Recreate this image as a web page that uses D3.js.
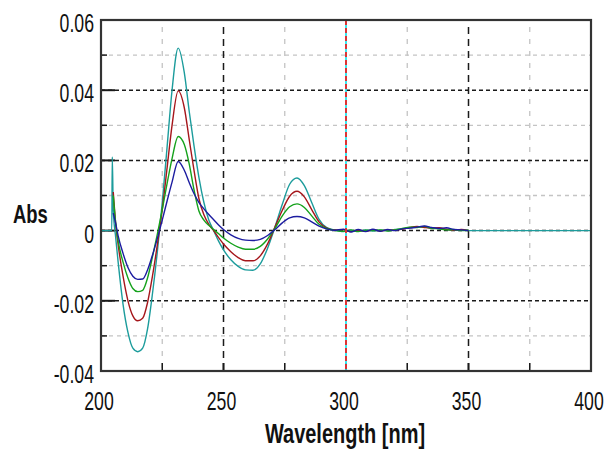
<!DOCTYPE html>
<html>
<head>
<meta charset="utf-8">
<script src="https://cdn.jsdelivr.net/npm/d3@7"></script>
<style>
  body { margin: 0; background: #fff; }
  svg { display: block; }
  .lbl { font-family: "Liberation Sans", Arial, sans-serif; fill: #111; }
</style>
</head>
<body>
<svg id="chart" width="607" height="450"></svg>
<script>
  // wavelengths shared by all four traces (nm)
  var wavelengths = [205, 206, 207, 209, 211, 213, 215, 217, 219, 221, 223, 225, 227, 229, 231.5,
    234, 236, 238, 240, 242, 244, 246, 248, 250, 253, 256, 259, 262, 265, 268, 271, 274, 277,
    280, 283, 286, 289, 292, 295,
    299, 302, 305, 308, 311, 314, 317, 320, 323, 326, 329, 332, 335, 338, 341, 344, 347, 350];

  var tealAbs = [0.006, -0.002, -0.009, -0.021, -0.029, -0.0335, -0.0345, -0.0335, -0.028, -0.018, -0.006,
    0.008, 0.024, 0.040, 0.052, 0.045, 0.034, 0.024, 0.015, 0.008, 0.003, 0.0, -0.003, -0.0055,
    -0.0083, -0.0102, -0.0112, -0.0113, -0.0095, -0.005, 0.001, 0.0075, 0.0132, 0.015, 0.0128,
    0.008, 0.0032, 0.0009, 0.0002,
    -0.0003, 0.0001, -0.0002, 0.0002, -0.0001, 0.0001, 0.0000, 0.0003, 0.0005, 0.0008, 0.0011,
    0.0010, 0.0008, 0.0006, 0.0003, 0.0001, 0.0002, 0.0000];
  var redAbs = [0.011, 0.002, -0.004, -0.013, -0.020, -0.0243, -0.0257, -0.025, -0.0205, -0.013, -0.004,
    0.006, 0.018, 0.030, 0.0398, 0.035, 0.026, 0.017, 0.009, 0.0045, 0.0018, 0.0, -0.002, -0.0038,
    -0.006, -0.0077, -0.0086, -0.0086, -0.0072, -0.0038, 0.001, 0.0058, 0.0098, 0.0112, 0.0096,
    0.006, 0.0025, 0.0008, 0.0002,
    0.0002, -0.0003, 0.0001, -0.0002, 0.0002, -0.0001, 0.0002, 0.0001, 0.0004, 0.0009, 0.0012,
    0.0009, 0.0007, 0.0008, 0.0004, 0.0001, 0.0003, 0.0000];
  var greenAbs = [0.010, 0.002, -0.003, -0.009, -0.0135, -0.0165, -0.0174, -0.0170, -0.0135, -0.0075, -0.001,
    0.006, 0.0135, 0.0205, 0.0268, 0.0245, 0.019, 0.0115, 0.0055, 0.003, 0.0015, 0.0003, -0.0009,
    -0.0021, -0.0036, -0.0047, -0.0053, -0.0053, -0.0045, -0.0024, 0.0006, 0.0042, 0.0068, 0.0076,
    0.0066, 0.0042, 0.0018, 0.0006, 0.0001,
    -0.0002, 0.0002, -0.0003, 0.0001, 0.0000, 0.0002, -0.0001, 0.0002, 0.0006, 0.0010, 0.0009,
    0.0012, 0.0006, 0.0005, 0.0002, 0.0003, 0.0000, 0.0001];
  var blueAbs = [0.005, 0.002, -0.0015, -0.0065, -0.0105, -0.013, -0.0139, -0.0138, -0.0112, -0.007, -0.0022,
    0.003, 0.0085, 0.0138, 0.0197, 0.0172, 0.0137, 0.0105, 0.0080, 0.0062, 0.0046, 0.0031, 0.0016,
    0.0003, -0.0012, -0.0022, -0.0027, -0.0028, -0.0025, -0.0014, 0.0003, 0.0022, 0.0036, 0.004,
    0.0036, 0.0025, 0.0013, 0.0005, 0.0001,
    0.0004, -0.0004, 0.0003, -0.0003, 0.0004, -0.0002, 0.0003, 0.0000, 0.0005, 0.0007, 0.0010,
    0.0013, 0.0009, 0.0006, 0.0008, 0.0003, 0.0002, 0.0000];

  // the teal trace also has a flat baseline before the lamp spike and after 350 nm
  var tealHeadW = [200, 204.4, 204.6], tealHeadA = [0, 0, 0.021];
  var tealTailW = [360, 400], tealTailA = [0, 0];

  var xTicks = [200, 250, 300, 350, 400];
  var xMinor = [225, 275, 325, 375];
  var yTicks = [-0.04, -0.02, 0, 0.02, 0.04, 0.06];
  var yMinor = [-0.03, -0.01, 0.01, 0.03, 0.05];
  var yTickLabels = ['-0.04', '-0.02', '0', '0.02', '0.04', '0.06'];
  var markerNm = 300;

  var margin = {top: 20, right: 16, bottom: 79, left: 101},
      width = 607 - margin.left - margin.right,
      height = 450 - margin.top - margin.bottom;

  var svg = d3.select('#chart');
  var g = svg.append('g').attr('transform', 'translate(' + margin.left + ',' + margin.top + ')');

  var x = d3.scaleLinear().domain([200, 400]).range([0, width]);
  var y = d3.scaleLinear().domain([-0.04, 0.06]).range([height, 0]);

  // grid, minor first
  g.selectAll('line.ygrid-minor').data(yMinor).enter().append('line')
    .attr('x1', 0).attr('x2', width)
    .attr('y1', function(d) { return y(d); }).attr('y2', function(d) { return y(d); })
    .attr('stroke', '#c4c4c4').attr('stroke-width', 1.3).attr('stroke-dasharray', '4,4');
  g.selectAll('line.xgrid-minor').data(xMinor).enter().append('line')
    .attr('y1', 7).attr('y2', height)
    .attr('x1', function(d) { return x(d); }).attr('x2', function(d) { return x(d); })
    .attr('stroke', '#c4c4c4').attr('stroke-width', 1.3).attr('stroke-dasharray', '5,7');
  g.selectAll('line.ygrid').data(yTicks.filter(function(d) { return d > -0.04 && d < 0.06; })).enter().append('line')
    .attr('x1', 0).attr('x2', width)
    .attr('y1', function(d) { return y(d); }).attr('y2', function(d) { return y(d); })
    .attr('stroke', '#1a1a1a').attr('stroke-width', 1.5).attr('stroke-dasharray', '4,3');
  g.selectAll('line.xgrid').data(xTicks.filter(function(d) { return d > 200 && d < 400 && d !== markerNm; })).enter().append('line')
    .attr('y1', 7).attr('y2', height)
    .attr('x1', function(d) { return x(d); }).attr('x2', function(d) { return x(d); })
    .attr('stroke', '#1a1a1a').attr('stroke-width', 1.5).attr('stroke-dasharray', '7,5');

  // inside ticks
  g.selectAll('line.ytick').data(yTicks).enter().append('line')
    .attr('x1', 0).attr('x2', 14)
    .attr('y1', function(d) { return y(d); }).attr('y2', function(d) { return y(d); })
    .attr('stroke', '#1a1a1a').attr('stroke-width', 2);
  g.selectAll('line.ytick-minor').data(yMinor).enter().append('line')
    .attr('x1', 0).attr('x2', 6)
    .attr('y1', function(d) { return y(d); }).attr('y2', function(d) { return y(d); })
    .attr('stroke', '#1a1a1a').attr('stroke-width', 1.5);
  g.selectAll('line.xtick').data(xTicks).enter().append('line')
    .attr('y1', height).attr('y2', height - 8)
    .attr('x1', function(d) { return x(d); }).attr('x2', function(d) { return x(d); })
    .attr('stroke', '#1a1a1a').attr('stroke-width', 1.8);
  g.selectAll('line.xtick-minor').data(xMinor).enter().append('line')
    .attr('y1', height).attr('y2', height - 8)
    .attr('x1', function(d) { return x(d); }).attr('x2', function(d) { return x(d); })
    .attr('stroke', '#1a1a1a').attr('stroke-width', 1.5);

  // traces
  function pts(w, a) {
    return w.map(function(v, i) { return [v, a[i]]; });
  }
  var series = [
    {color: '#1c9c9c', data: pts(tealHeadW, tealHeadA).concat(pts(wavelengths, tealAbs), pts(tealTailW, tealTailA))},
    {color: '#a5161b', data: pts(wavelengths, redAbs)},
    {color: '#15a21c', data: pts(wavelengths, greenAbs)},
    {color: '#1c1ca0', data: pts(wavelengths, blueAbs)}
  ];

  var line = d3.line()
    .x(function(d) { return x(d[0]); })
    .y(function(d) { return y(d[1]); })
    .curve(d3.curveMonotoneX);

  g.selectAll('path.trace').data(series).enter().append('path')
    .attr('class', 'trace')
    .attr('d', function(d) { return line(d.data); })
    .attr('fill', 'none')
    .attr('stroke', function(d) { return d.color; })
    .attr('stroke-width', 1.4);

  // cursor at 300 nm: cyan with red dashes
  g.append('line')
    .attr('x1', x(markerNm)).attr('x2', x(markerNm)).attr('y1', 0).attr('y2', height)
    .attr('stroke', '#22e6f0').attr('stroke-width', 1.8);
  g.append('line')
    .attr('x1', x(markerNm)).attr('x2', x(markerNm)).attr('y1', 0).attr('y2', height)
    .attr('stroke', '#ee2222').attr('stroke-width', 1.8).attr('stroke-dasharray', '5,3');

  // frame
  g.append('rect')
    .attr('x', 0).attr('y', 0).attr('width', width).attr('height', height)
    .attr('fill', 'none').attr('stroke', '#333').attr('stroke-width', 2.2);

  // no narrow font installed, so squeeze the regular one horizontally
  function narrowText(parent, tx, ty, anchor, size, weight, sx, str) {
    return parent.append('text')
      .attr('class', 'lbl')
      .attr('transform', 'translate(' + tx + ',' + ty + ') scale(' + sx + ',1)')
      .attr('text-anchor', anchor)
      .attr('font-size', size)
      .attr('font-weight', weight)
      .text(str);
  }

  xTicks.forEach(function(d) {
    narrowText(g, x(d) - 2, height + 39, 'middle', 26, 'normal', 0.68, d);
  });
  yTicks.forEach(function(d, i) {
    narrowText(g, -7, y(d) + 12, 'end', 26, 'normal', 0.68, yTickLabels[i]);
  });

  // axis titles
  narrowText(svg, 13, 223, 'start', 26, 'bold', 0.71, 'Abs');
  narrowText(svg, 345, 443, 'middle', 27, 'bold', 0.74, 'Wavelength [nm]');
</script>
</body>
</html>
